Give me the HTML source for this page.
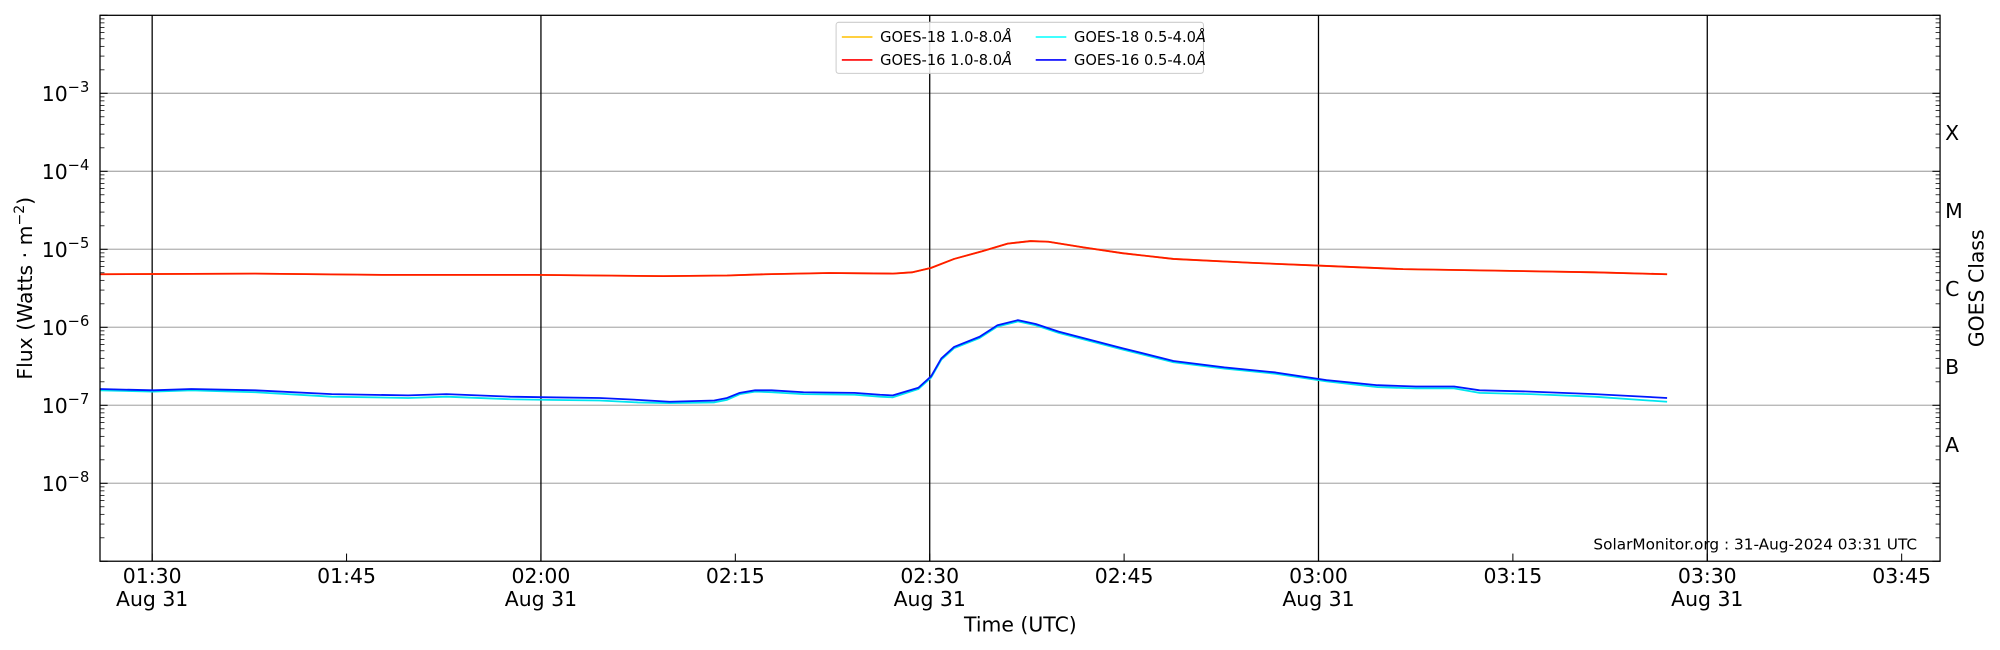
<!DOCTYPE html>
<html><head><meta charset="utf-8"><style>
html,body{margin:0;padding:0;background:#fff;}
svg{display:block;}
text{font-family:"DejaVu Sans","Liberation Sans",sans-serif;fill:#000;}
</style></head><body>
<svg id="s" width="2000" height="650" viewBox="0 0 1568 509.6" preserveAspectRatio="none" xmlns="http://www.w3.org/2000/svg">
<g id="grid"></g>
<g id="data" fill="none" stroke-width="1.4" stroke-linejoin="round">
<polyline stroke="#00e5ee" points="78,306 120,307 150,306 200,307.5 260,311 320,312 350,311 400,313 430,313.5 470,314 500,315.5 525,316 560,315.5 570,313.5 580,309 592,307 605,307.5 630,309 670,309.5 690,311 700,311.5 720,305 730,296 738,282 748,273 768,265 782,256 798,252 812,255 830,261 880,274 920,284 960,289 1000,293 1040,299 1080,303.5 1110,304.5 1140,304.5 1160,308 1200,309 1250,311 1307,315"/>
<polyline stroke="#0018ff" points="78,305 120,306 150,305 200,306 260,309 320,310 350,309 400,311 430,311.5 470,312 500,313.5 525,315 560,314 570,312 580,308 592,306 605,306 630,307.5 670,308 690,309.5 700,310 720,304 730,295 738,281 748,272 768,264 782,255 798,251 812,254 830,260 880,273 920,283 960,288 1000,292 1040,298 1080,302 1110,303 1140,303 1160,306 1200,307 1250,309 1307,312"/>
<polyline stroke="#ffc000" points="78,215 200,214.5 300,215.5 420,215.5 520,216.5 570,216 600,215 650,214 700,214.5 715,213.5 730,210 748,203 770,197 790,191 808,189 822,189.5 850,194 880,198.5 920,203 980,206 1040,208.5 1100,211 1160,212 1250,213.5 1307,215"/>
<polyline stroke="#ff1a00" points="78,215 200,214.5 300,215.5 420,215.5 520,216.5 570,216 600,215 650,214 700,214.5 715,213.5 730,210 748,203 770,197 790,191 808,189 822,189.5 850,194 880,198.5 920,203 980,206 1040,208.5 1100,211 1160,212 1250,213.5 1307,215"/>
</g>
<g id="ax"></g>
<rect x="78.4" y="12" width="1442.6" height="428" fill="none" stroke="#000" stroke-width="1"/>
<g font-size="11.5">
<rect x="655.5" y="17.5" width="288" height="40" rx="2" fill="#fff" fill-opacity="0.85" stroke="#ccc" stroke-width="0.8"/>
<line x1="660" y1="29" x2="684" y2="29" stroke="#ffc000" stroke-width="1.2"/>
<text x="690" y="33">GOES-18 1.0-8.0<tspan font-style="italic">Å</tspan></text>
<line x1="660" y1="47" x2="684" y2="47" stroke="#ff0000" stroke-width="1.2"/>
<text x="690" y="51">GOES-16 1.0-8.0<tspan font-style="italic">Å</tspan></text>
<line x1="812" y1="29" x2="836" y2="29" stroke="#00ffff" stroke-width="1.2"/>
<text x="842" y="33">GOES-18 0.5-4.0<tspan font-style="italic">Å</tspan></text>
<line x1="812" y1="47" x2="836" y2="47" stroke="#0000ff" stroke-width="1.2"/>
<text x="842" y="51">GOES-16 0.5-4.0<tspan font-style="italic">Å</tspan></text>
</g>
<text x="1503" y="431" font-size="12" text-anchor="end">SolarMonitor.org : 31-Aug-2024 03:31 UTC</text>
<text x="800" y="495" font-size="16" text-anchor="middle">Time (UTC)</text>
<text transform="translate(25,226) rotate(-90)" font-size="16" text-anchor="middle">Flux (Watts · m<tspan dy="-6" font-size="11">−2</tspan><tspan dy="6">)</tspan></text>
<text transform="translate(1555,226) rotate(-90)" font-size="16" text-anchor="middle">GOES Class</text>
</svg>
<script>
const NS="http://www.w3.org/2000/svg";
const g=document.getElementById('grid'),ax=document.getElementById('ax');
function el(p,t,a,txt){const e=document.createElementNS(NS,t);for(const k in a)e.setAttribute(k,a[k]);if(txt!=null)e.textContent=txt;p.appendChild(e);return e;}
const L=78.4,R=1521,T=12,B=440,D=61.15;
function Y(lg){return T+(-2-lg)*D;}
for(let e=-3;e>=-8;e--){el(g,'line',{x1:L,x2:R,y1:Y(e),y2:Y(e),stroke:'#b0b0b0','stroke-width':1});}
for(let i=0;i<5;i++){const x=119.3+i*304.8;el(g,'line',{x1:x,x2:x,y1:T,y2:B,stroke:'#000','stroke-width':1});}
for(let e=-2;e>=-9;e--){
  const y=Y(e);
  el(ax,'line',{x1:L,x2:L+6,y1:y,y2:y,stroke:'#000','stroke-width':0.8});
  el(ax,'line',{x1:R,x2:R-6,y1:y,y2:y,stroke:'#000','stroke-width':0.8});
  if(e<-2){for(let m=2;m<=9;m++){const ym=Y(e+Math.log10(m));
    el(ax,'line',{x1:L,x2:L+3.5,y1:ym,y2:ym,stroke:'#000','stroke-width':0.6});
    el(ax,'line',{x1:R,x2:R-3.5,y1:ym,y2:ym,stroke:'#000','stroke-width':0.6});}}
  if(e<=-3&&e>=-8){const t=el(ax,'text',{x:70,y:y+6,'font-size':16,'text-anchor':'end'});
    t.innerHTML='10<tspan dy="-7" font-size="11.5">−'+(-e)+'</tspan>';}
}
const cl=['X','M','C','B','A'];
cl.forEach((c,i)=>el(ax,'text',{x:1525,y:Y(-3.5-i)+6,'font-size':16},c));
const labs=['01:30','01:45','02:00','02:15','02:30','02:45','03:00','03:15','03:30','03:45'];
labs.forEach((l,i)=>{const x=119.3+i*152.4;
  el(ax,'line',{x1:x,x2:x,y1:B,y2:B-6,stroke:'#000','stroke-width':0.8});
  el(ax,'text',{x:x,y:457,'font-size':16,'text-anchor':'middle'},l);
  if(i%2==0)el(ax,'text',{x:x,y:475,'font-size':16,'text-anchor':'middle'},'Aug 31');
});
</script>
</body></html>
